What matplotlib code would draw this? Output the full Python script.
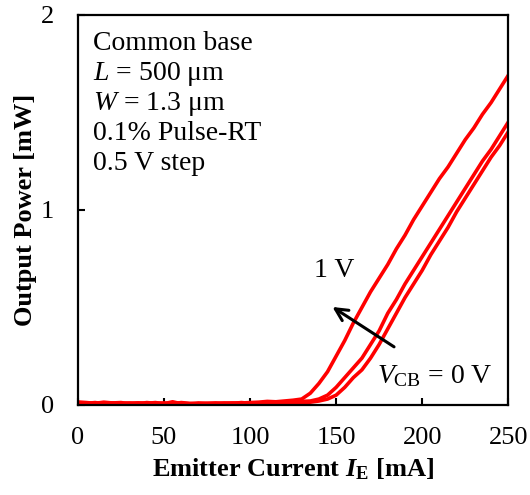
import matplotlib
matplotlib.use("Agg")
import matplotlib.pyplot as plt

plt.rcParams['font.family'] = ['Liberation Serif', 'DejaVu Serif']
plt.rcParams['mathtext.fontset'] = 'custom'
plt.rcParams['mathtext.rm'] = 'Liberation Serif'
plt.rcParams['mathtext.it'] = 'Liberation Serif:italic'
plt.rcParams['mathtext.bf'] = 'Liberation Serif:bold'
plt.rcParams['mathtext.bfit'] = 'Liberation Serif:italic:bold'

# baseline (below threshold)
baseline_current = [0, 5, 10, 15, 20, 25, 30, 35, 40, 45, 50, 55, 60, 65, 70,
                    75, 80, 85, 90, 95, 100, 105, 110, 115, 120, 125]
baseline_1v = [0.015, 0.012, 0.008, 0.014, 0.010, 0.012, 0.006, 0.010, 0.008, 0.012,
               0.006, 0.016, 0.006, 0.004, 0.006, 0.006, 0.008, 0.010, 0.008, 0.010,
               0.012, 0.014, 0.018, 0.016, 0.020, 0.024]
baseline_05v = [0.010, 0.008, 0.012, 0.006, 0.010, 0.008, 0.010, 0.006, 0.012, 0.008,
                0.010, 0.006, 0.012, 0.008, 0.006, 0.008, 0.010, 0.006, 0.008, 0.012,
                0.008, 0.010, 0.012, 0.010, 0.014, 0.016]
baseline_0v = [0.008, 0.010, 0.006, 0.010, 0.008, 0.006, 0.008, 0.010, 0.006, 0.008,
               0.006, 0.010, 0.008, 0.006, 0.010, 0.008, 0.006, 0.008, 0.010, 0.006,
               0.010, 0.008, 0.010, 0.012, 0.010, 0.012]

# above threshold
current_1v = [130, 135, 140, 145, 150, 155, 160, 165, 170, 175, 180, 185, 190,
              195, 200, 205, 210, 215, 220, 225, 230, 235, 240, 245, 250]
power_1v = [0.03, 0.06, 0.11, 0.17, 0.25, 0.33, 0.42, 0.50, 0.58, 0.65, 0.72, 0.80, 0.87,
            0.95, 1.02, 1.09, 1.16, 1.22, 1.29, 1.36, 1.42, 1.49, 1.55, 1.62, 1.69]

current_05v = [130, 135, 140, 145, 150, 155, 160, 165, 170, 175, 180, 185, 190,
               195, 200, 205, 210, 215, 220, 225, 230, 235, 240, 245, 250]
power_05v = [0.018, 0.02, 0.03, 0.05, 0.09, 0.14, 0.19, 0.24, 0.31, 0.38, 0.47, 0.54, 0.62,
             0.69, 0.76, 0.83, 0.90, 0.97, 1.04, 1.11, 1.18, 1.25, 1.31, 1.38, 1.45]

current_0v = [130, 135, 140, 145, 150, 155, 160, 165, 170, 175, 180, 185, 190,
              195, 200, 205, 210, 215, 220, 225, 230, 235, 240, 245, 250]
power_0v = [0.012, 0.014, 0.02, 0.03, 0.05, 0.09, 0.14, 0.18, 0.24, 0.31, 0.39, 0.47, 0.55,
            0.62, 0.69, 0.77, 0.84, 0.91, 0.99, 1.06, 1.13, 1.20, 1.27, 1.33, 1.40]

info_lines = ["Common base", "$L$ = 500 μm", "$W$ = 1.3 μm", "0.1% Pulse-RT", "0.5 V step"]

fig = plt.figure(figsize=(5.3, 4.95), dpi=100)
ax = fig.add_axes([0.147, 0.182, 0.812, 0.788])

for base, cur, pw in [(baseline_0v, current_0v, power_0v),
                      (baseline_05v, current_05v, power_05v),
                      (baseline_1v, current_1v, power_1v)]:
    ax.plot(baseline_current + cur, base + pw, color='#ff0000', lw=2.6)

ax.set_xlim(0, 250)
ax.set_ylim(0, 2)
ax.set_xticks([0, 50, 100, 150, 200, 250])
ax.set_yticks([0, 1, 2])
ax.tick_params(direction='in', length=5, width=1.5, labelsize=19)
ax.tick_params(axis='x', pad=16)
ax.tick_params(axis='y', pad=17)
for s in ax.spines.values():
    s.set_linewidth(1.6)

ax.set_xlabel(r"Emitter Current $\mathbfit{I}_\mathbf{E}$ [mA]", fontsize=19, fontweight='bold', labelpad=5)
ax.set_ylabel("Output Power [mW]", fontsize=19, fontweight='bold', labelpad=3)

for i, line in enumerate(info_lines):
    ax.text(0.035, 0.926 - i * 0.077, line, transform=ax.transAxes, fontsize=20,
            ha='left', va='center')

ax.annotate("", xy=(146.5, 0.51), xytext=(185, 0.29),
            arrowprops=dict(arrowstyle='->', color='black', lw=2.2, mutation_scale=22))
ax.text(149, 0.69, "1 V", fontsize=20, ha='center', va='center')
ax.text(174, 0.15, r"$V_\mathrm{CB}$ = 0 V", fontsize=20, ha='left', va='center')

fig.savefig("out.png", dpi=100)
